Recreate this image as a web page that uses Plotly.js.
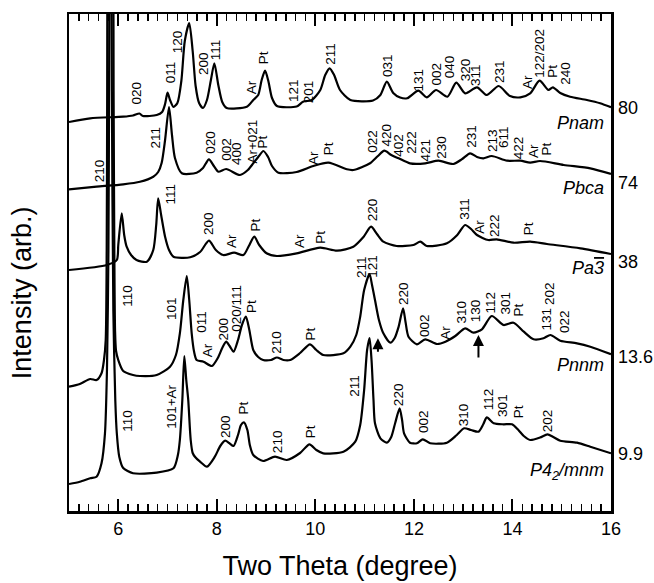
<!DOCTYPE html>
<html><head><meta charset="utf-8">
<script src="https://cdn.plot.ly/plotly-3.0.1.min.js"></script>
<style>html,body{margin:0;padding:0;background:#fff}</style>
</head><body><div id="chart" style="width:654px;height:583px"></div>
<script>
// ---- data: two-theta (degree) and intensity (arb.), stacked patterns ----
const tt_Pnam = [5.00,5.43,6.10,6.30,6.43,6.50,6.78,6.89,6.95,7.00,7.05,7.12,7.20,7.28,7.35,7.44,7.51,7.57,7.64,7.72,7.80,7.88,7.95,8.03,8.11,8.20,8.61,8.74,8.84,8.91,8.98,9.05,9.12,9.22,9.62,9.75,9.93,10.10,10.20,10.29,10.38,10.50,10.71,11.17,11.32,11.45,11.58,11.72,11.86,12.09,12.26,12.45,12.68,12.86,13.04,13.28,13.48,13.72,13.95,14.16,14.36,14.55,14.73,14.82,14.97,15.17,15.51,15.78,16.00];
const I_Pnam  = [389,392.7,394.3,395.5,397.5,395,396,399,407,418.3,411,404,408,430,470,488,460,425,408,403,411,431,447.7,426,409,403,404.3,411,416,431,440.3,429,413,405,404.5,409.3,411,421,436,442.7,436,421,411,410.5,416,429.3,418,413.5,412.7,420.3,413.7,421,414.3,428.3,417.7,423.7,416,425,415,413.7,417.7,430.3,421,423.7,418,414.3,411,407.7,403.7];

const tt_Pbca = [5.00,5.56,6.10,6.44,6.71,6.81,6.88,6.95,7.03,7.09,7.15,7.29,7.59,7.72,7.84,7.94,8.03,8.19,8.47,8.63,8.74,8.84,8.945,9.04,9.12,9.25,9.62,9.96,10.265,10.64,10.77,11.11,11.27,11.40,11.54,11.69,11.92,12.23,12.50,12.80,12.98,13.14,13.28,13.41,13.58,13.89,14.16,14.36,14.56,15.04,15.58,16.00];
const I_Pbca  = [321.7,324.3,326.7,329.3,334.3,339,348,371,404,376,353,337.7,338.3,343,351.7,345,339.3,342,336,341,347.7,354,360,354,345,338.3,339,345,348.3,341.7,341,347.7,355,360.3,356,352.7,347.7,347.7,350.3,347,352,357.7,354,352.7,355,350.3,350.3,348.3,350,346,342.7,337];

const tt_Pa3 = [5.00,5.77,5.97,6.00,6.07,6.12,6.17,6.26,6.37,6.58,6.71,6.77,6.81,6.87,6.95,7.03,7.12,7.46,7.66,7.84,7.98,8.13,8.35,8.54,8.65,8.76,8.86,9.01,9.22,9.62,10.10,10.44,10.77,10.98,11.13,11.25,11.38,11.65,11.99,12.13,12.26,12.67,12.88,13.04,13.16,13.28,13.51,13.68,14.02,14.36,14.70,15.38,16.00];
const I_Pa3  = [241,246,251,266,297.7,276,264.3,256,251,249.3,261,286,312.7,296,274.3,261,254.3,253.7,259,270.3,261,256,258.3,256,265,274.3,266,257.7,255,257.7,263.3,260.3,264.3,274.3,284.3,277,269.3,265,266,269.3,265,267.7,276,286,282,276,271,271.7,268.3,269.3,267,262.7,257];

const tt_Pnnm = [5.00,5.22,5.43,5.56,5.66,5.71,5.745,5.765,5.775,5.782,5.84,5.898,5.905,5.92,5.935,5.955,6.00,6.10,6.30,6.44,6.78,7.05,7.17,7.25,7.32,7.39,7.44,7.49,7.54,7.59,7.73,7.90,8.02,8.11,8.19,8.26,8.34,8.43,8.51,8.59,8.66,8.74,8.84,8.94,9.10,9.22,9.35,9.49,9.69,9.89,10.02,10.16,10.57,10.71,10.83,10.91,10.99,11.10,11.15,11.21,11.29,11.38,11.52,11.61,11.69,11.78,11.83,11.89,12.06,12.23,12.47,12.64,12.84,13.04,13.21,13.38,13.58,13.82,14.02,14.23,14.43,14.63,14.77,14.97,15.31,15.58,16.00];
const I_Pnnm  = [124.3,127,132,131,137.7,151,171,260,420,600,1000,600,420,260,180,160,151,140,136,135,136,144.3,156,177.7,211,235,211,177.7,159,151,149.3,145,153,163,169.3,165,159.3,171,186,194.3,181,161,154,151,151,153.5,151,151,158,166.7,161,156,157.7,164.3,176,194.3,221,237,226,211,191,177.7,168.3,173,184.3,202.7,189,174.3,166.7,171.7,167,169.3,175,182.7,178.3,181.7,195,186,188.3,179.3,171.7,172.7,176,170.3,167.7,164.3,156.7];

const tt_P42 = [5.00,5.22,5.43,5.56,5.66,5.73,5.77,5.80,5.815,5.822,5.842,5.862,5.87,5.90,5.94,5.97,6.02,6.10,6.30,6.78,7.12,7.21,7.25,7.30,7.34,7.38,7.42,7.47,7.51,7.56,7.66,7.80,7.96,8.07,8.17,8.25,8.34,8.43,8.49,8.55,8.62,8.67,8.74,8.94,9.18,9.42,9.69,9.88,10.02,10.16,10.57,10.81,10.91,10.99,11.05,11.10,11.14,11.18,11.21,11.32,11.45,11.54,11.62,11.71,11.76,11.80,11.92,12.06,12.18,12.33,12.67,12.87,13.02,13.16,13.31,13.41,13.48,13.62,13.82,13.99,14.12,14.23,14.36,14.56,14.71,14.83,14.97,15.31,15.58,16.00];
const I_P42  = [27,29.3,32.7,34.3,47.7,77.7,140,260,450,600,1000,600,420,200,110,78,54.3,43,37.7,38.3,42.7,56,71,111,155,131,111,71,58,54,49.3,44.3,54.3,65,70.3,68,65,76,86,88.7,81,66,56,50,54.3,51,58,66.7,61,57.7,59.3,69.3,86,121,161,173,151,111,87.7,72.7,68.3,74,88,102.7,91,77.7,68.3,67.7,71.7,67.7,68.3,76,82.7,81,79.3,87,93.7,87.7,86.7,86.7,81,75,71,73.5,76.7,74,70.3,68.3,64.3,57.7];

// ---- reflection labels: text, two-theta, intensity at label base ----
const lab_Pnam = ["020","011","120","200","111","Ar","Pt","121","201","211","031","131","002","040","320","311","231","Ar","122/202","Pt","240"];
const pos_Pnam = [6.36,7.05,7.20,7.73,7.98,8.70,8.95,9.54,9.86,10.29,11.48,12.09,12.45,12.72,13.04,13.24,13.75,14.31,14.56,14.82,15.07];
const lev_Pnam = [406,427.7,457.7,436,451,417,447,409.3,407.7,446,433.7,419.3,425,432.7,429.3,425,427.7,421.7,432.7,433.7,426];

const lab_Pbca = ["210","211","020","002","400","Ar+021","Pt","Ar","Pt","022","420","402","222","421","230","231","213","611","422","Ar","Pt"];
const pos_Pbca = [5.61,6.75,7.88,8.20,8.40,8.72,8.93,9.95,10.27,11.17,11.44,11.69,11.96,12.23,12.57,13.18,13.58,13.82,14.12,14.43,14.70];
const lev_Pbca = [328.3,362.7,357.7,350.3,346,347.7,362.7,346,356,357.7,364.3,354.3,357.7,349.3,352.7,362.7,359.3,362.7,351.7,352.7,356];

const lab_Pa3 = ["111","200","Ar","Pt","Ar","Pt","220","311","Ar","222","Pt"];
const pos_Pa3 = [7.05,7.83,8.30,8.78,9.68,10.10,11.15,13.01,13.33,13.62,14.33];
const lev_Pa3 = [306,276,262.7,279.3,262.7,267,289.3,291,277.7,274.3,276];

const lab_Pnnm = ["110","101","011","Ar","200","020/111","Pt","210","Pt","211","121","220","002","Ar","310","130","112","301","Pt","131","202","022"];
const pos_Pnnm = [6.20,7.08,7.69,7.80,8.13,8.40,8.70,9.22,9.91,10.94,11.17,11.79,12.23,12.64,12.97,13.24,13.55,13.85,14.12,14.70,14.75,15.07];
const lev_Pnnm = [204.3,191,177.7,153.7,170.3,179.3,197.7,157.7,171,232.7,232.7,206,173.7,171.7,187.7,188.3,197.7,196,194.3,181,206,177.7];

const lab_P42 = ["110","101+Ar","200","Pt","210","Pt","211","220","002","310","112","301","Pt","202"];
const pos_P42 = [6.20,7.08,8.19,8.55,9.22,9.89,10.78,11.69,12.21,13.01,13.51,13.81,14.12,14.70];
const lev_P42 = [79.3,82.7,72.7,97,58.3,73.3,114,105,77.7,85,101,93.7,92.7,79.3];

// marked arrows (two-theta, intensity at tip)
const arrowPos = [11.27, 13.31];
const arrowLev = [172.7, 176];

// phase names and pressures (GPa), top to bottom
const phaseNames = ["<i>Pnam</i>","<i>Pbca</i>","<i>Pa<span style='text-decoration:overline'>3</span></i>","<i>Pnnm</i>","<i>P4<sub>2</sub>/mnm</i>"];
const phaseLev = [388,322.7,243,146,39.3];
const pressures = ["80","74","38","13.6","9.9"];
const pressureLev = [402.7,327.7,249.3,153.7,57];

// ---- build ----
const FONT = "Liberation Sans, Arial, Helvetica, sans-serif";
const series = [[tt_Pnam,I_Pnam],[tt_Pbca,I_Pbca],[tt_Pa3,I_Pa3],[tt_Pnnm,I_Pnnm],[tt_P42,I_P42]];
const traces = series.map(s => ({
  x: s[0], y: s[1], type: 'scatter', mode: 'lines',
  line: {color: '#000', width: 2.2, shape: 'spline', smoothing: 0.7},
  hoverinfo: 'skip', showlegend: false
}));

const annotations = [];
[[lab_Pnam,pos_Pnam,lev_Pnam],[lab_Pbca,pos_Pbca,lev_Pbca],[lab_Pa3,pos_Pa3,lev_Pa3],[lab_Pnnm,pos_Pnnm,lev_Pnnm],[lab_P42,pos_P42,lev_P42]].forEach(g => {
  g[0].forEach((t,i) => annotations.push({
    x: g[1][i], y: g[2][i], xref: 'x', yref: 'y', text: t, showarrow: false,
    textangle: -90, xanchor: 'center', yanchor: 'bottom', borderpad: 0, borderwidth: 0,
    font: {family: FONT, size: 13.5, color: '#000'}
  }));
});
arrowPos.forEach((p,i) => annotations.push({
  x: p, y: arrowLev[i], xref: 'x', yref: 'y', text: '', showarrow: true,
  ax: 0, ay: i === 0 ? 15 : 24, arrowhead: 2, arrowsize: 1.1, arrowwidth: 2, arrowcolor: '#000'
}));
phaseNames.forEach((t,i) => annotations.push({
  x: 0.991, y: phaseLev[i], xref: 'paper', yref: 'y', text: t, showarrow: false,
  xanchor: 'right', yanchor: 'middle', font: {family: FONT, size: 18, color: '#000'}
}));
pressures.forEach((t,i) => annotations.push({
  x: 1.01, y: pressureLev[i], xref: 'paper', yref: 'y', text: t, showarrow: false,
  xanchor: 'left', yanchor: 'middle', font: {family: FONT, size: 18, color: '#000'}
}));
// y-axis title
annotations.push({
  x: -0.087, y: 0.44, xref: 'paper', yref: 'paper', text: 'Intensity (arb.)', showarrow: false,
  textangle: -90, xanchor: 'center', yanchor: 'middle', font: {family: FONT, size: 27, color: '#000'}
});

const layout = {
  width: 654, height: 583,
  margin: {l: 69, r: 43, t: 14, b: 72},
  paper_bgcolor: '#fff', plot_bgcolor: '#fff',
  font: {family: FONT, color: '#000'},
  showlegend: false,
  xaxis: {
    range: [5, 16], tickvals: [6,8,10,12,14,16], ticktext: ['6','8','10','12','14','16'],
    ticks: 'inside', ticklen: 12, tickwidth: 2, tickcolor: '#000',
    minor: {dtick: 0.2, tick0: 5, ticks: 'inside', ticklen: 7, tickwidth: 1.5, tickcolor: '#000', showgrid: false},
    showline: true, linewidth: 2.5, linecolor: '#000', mirror: 'ticks',
    showgrid: false, zeroline: false,
    tickfont: {family: FONT, size: 18, color: '#000'},
    title: {text: 'Two Theta (degree)', font: {family: FONT, size: 27, color: '#000'}, standoff: 18}
  },
  yaxis: {
    range: [0, 497], showticklabels: false, ticks: '',
    showline: true, linewidth: 2.5, linecolor: '#000', mirror: true,
    showgrid: false, zeroline: false
  },
  annotations: annotations
};
Plotly.newPlot('chart', traces, layout, {displayModeBar: false, staticPlot: true});
</script></body></html>
